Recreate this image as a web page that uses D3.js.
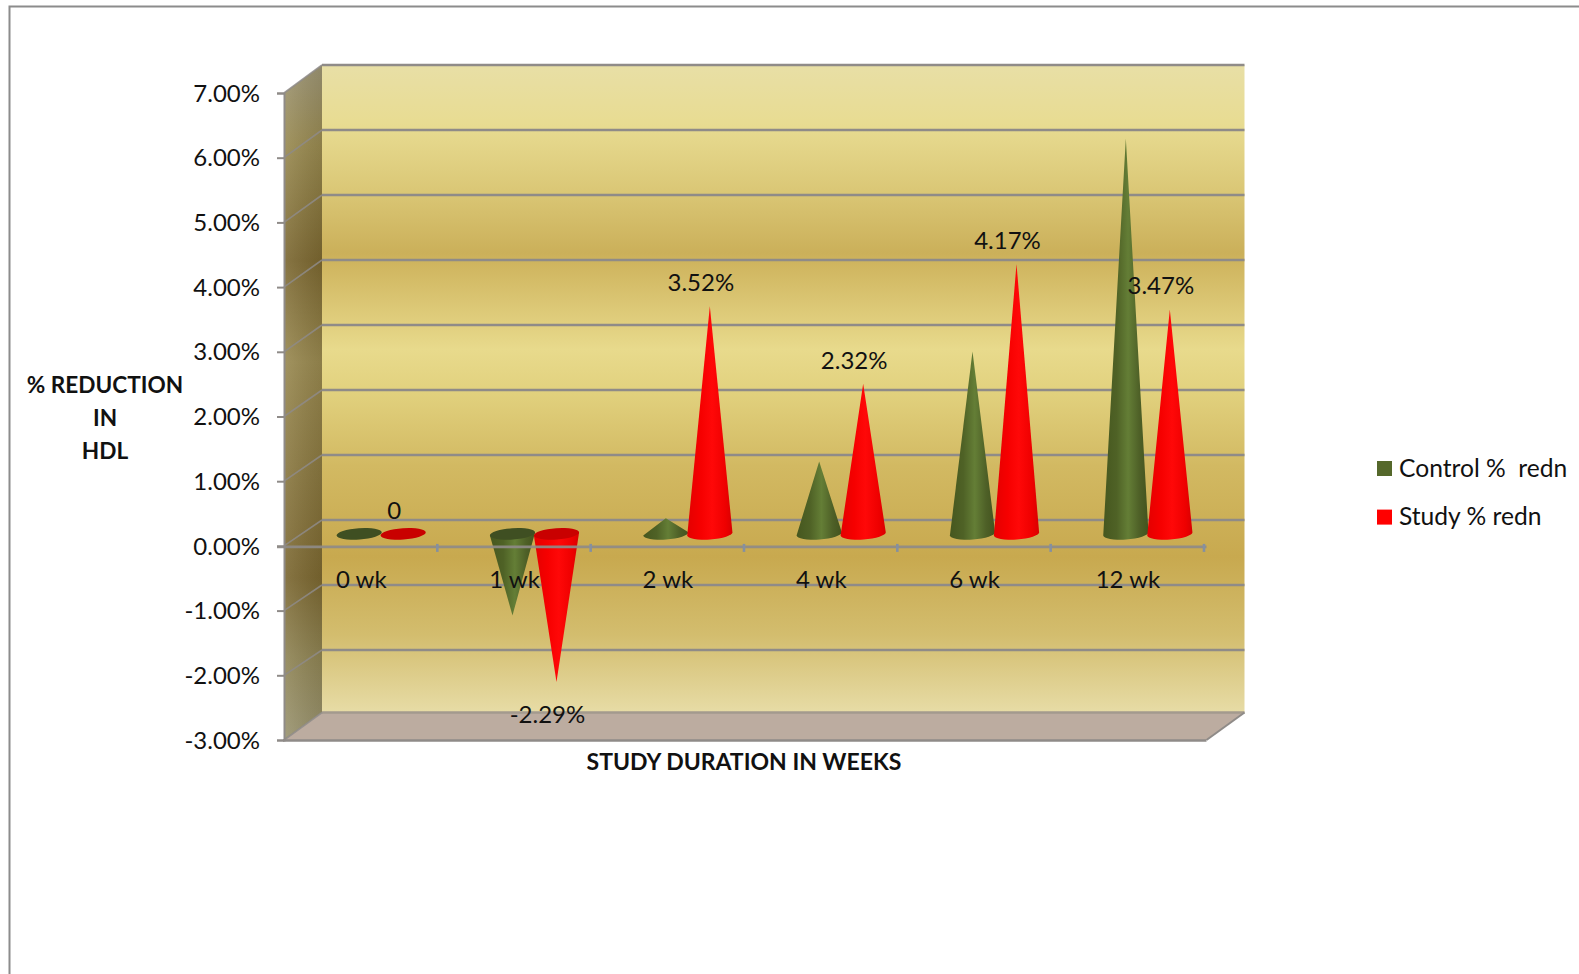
<!DOCTYPE html>
<html>
<head>
<meta charset="utf-8">
<script src="https://cdn.jsdelivr.net/npm/d3@7"></script>
<style>
  html, body { margin: 0; padding: 0; background: #fff; overflow: hidden; }
  svg { display: block; }
  text { font-family: Lato, "Open Sans", sans-serif; fill: #111; white-space: pre; }
</style>
</head>
<body>
<div id="chart"></div>
<script>
// Percent reduction in HDL over the study period
const categories = ["0 wk", "1 wk", "2 wk", "4 wk", "6 wk", "12 wk"];
const controlValues = [0, -1.26, 0.24, 1.12, 2.82, 6.11];
const studyValues = [0, -2.29, 3.52, 2.32, 4.17, 3.47];
const yTicks = [7, 6, 5, 4, 3, 2, 1, 0, -1, -2, -3];
const seriesNames = ["Control %  redn", "Study % redn"];
const seriesColors = ["#55682b", "#ff0000"];
const yTitleLines = ["% REDUCTION", "IN", "HDL"];
const xTitle = "STUDY DURATION IN WEEKS";

const width = 1579, height = 974;
const svg = d3.select("#chart").append("svg").attr("width", width).attr("height", height);
const defs = svg.append("defs");

// Front plane of the 3D box, plus the scale and offset of its back wall
const x = d3.scaleBand().domain(categories).range([284, 1204]);
const y = d3.scaleLinear().domain([-3, 7]).range([740, 93]);
const yBack = d3.scaleLinear().domain([-2, 6]).range([650, 130]);
const depthX = 38;
const xEnd = 1206.5;
const floorBackY = 712.5;
const gridColor = "#8f8b88";
const asPercent = d => d.toFixed(2) + "%";

function linearGradient(id, stops, horizontal) {
  const g = defs.append("linearGradient").attr("id", id)
    .attr("x1", 0).attr("y1", 0)
    .attr("x2", horizontal ? 1 : 0).attr("y2", horizontal ? 0 : 1);
  stops.forEach(([o, c, a]) => g.append("stop").attr("offset", o).attr("stop-color", c)
    .attr("stop-opacity", a === undefined ? 1 : a));
}

linearGradient("wall", [
  [0, "#e8dfa6"], [0.09, "#e8dc92"], [0.19, "#dbc877"], [0.29, "#cbb05a"],
  [0.31, "#d0b660"], [0.44, "#e8da8c"], [0.5, "#e2d27f"], [0.62, "#d2b962"],
  [0.76, "#c8a94f"], [0.88, "#d3bd6e"], [1, "#e7dca6"]
]);
linearGradient("sideWall", [
  [0, "#9c9474"], [0.12, "#98894f"], [0.29, "#7b6730"], [0.44, "#98884f"],
  [0.76, "#7b6730"], [0.88, "#8f8454"], [1, "#9a9470"]
]);
linearGradient("sideSheen", [[0, "#ffffff", 0.1], [1, "#000000", 0.08]], true);
linearGradient("coneControl", [
  [0, "#46571f"], [0.3, "#4f6226"], [0.55, "#647e36"], [0.8, "#4e6027"], [1, "#43531e"]
], true);
linearGradient("coneStudy", [
  [0, "#e40000"], [0.3, "#f60000"], [0.55, "#ff0808"], [0.85, "#ee0000"], [1, "#d80000"]
], true);

const box = svg.append("g");

// Outer chart frame, running off the page to the right and bottom
box.append("path")
  .attr("d", `M9.5,${height + 2}V6.5H${width + 2}`)
  .attr("fill", "none").attr("stroke", "#8c8c8c").attr("stroke-width", 2);

// Floor, side wall and back wall
const yTop = y(7), yBottom = y(-3), x0 = x.range()[0];
const wallTop = yBack(7);
box.append("path")
  .attr("d", `M${x0},${yBottom}L${x0 + depthX},${floorBackY}H${xEnd + depthX}L${xEnd},${yBottom}Z`)
  .attr("fill", "#bcaca0");
["url(#sideWall)", "url(#sideSheen)"].forEach(fill => {
  box.append("path")
    .attr("d", `M${x0},${yTop}L${x0 + depthX},${wallTop}V${floorBackY}L${x0},${yBottom}Z`)
    .attr("fill", fill);
});
box.append("rect")
  .attr("x", x0 + depthX).attr("y", wallTop)
  .attr("width", xEnd - x0).attr("height", floorBackY - wallTop)
  .attr("fill", "url(#wall)");

// Gridlines across the back wall and their diagonals over the side wall
yTicks.forEach(t => {
  const isFloor = t === -3;
  const by = isFloor ? floorBackY : yBack(t);
  box.append("line")
    .attr("x1", x0 + depthX).attr("x2", xEnd + depthX)
    .attr("y1", by).attr("y2", by)
    .attr("stroke", isFloor ? "#a39a8e" : gridColor).attr("stroke-width", 2.4);
  box.append("line")
    .attr("x1", x0).attr("x2", x0 + depthX)
    .attr("y1", y(t)).attr("y2", by)
    .attr("stroke", gridColor).attr("stroke-width", 1.6).attr("opacity", 0.85);
});
box.append("line")
  .attr("x1", xEnd).attr("y1", yBottom).attr("x2", xEnd + depthX).attr("y2", floorBackY)
  .attr("stroke", gridColor).attr("stroke-width", 2);

// Value axis
const yAxis = d3.axisLeft(y).tickValues(yTicks).tickSize(7).tickPadding(17).tickFormat(asPercent);
const yAxisG = svg.append("g").attr("transform", `translate(${x0},0)`).call(yAxis);
yAxisG.select(".domain").attr("stroke", gridColor).attr("stroke-width", 2);
yAxisG.selectAll(".tick line").attr("stroke", gridColor).attr("stroke-width", 2);
yAxisG.selectAll(".tick text").attr("font-size", 24).attr("font-family", "Lato")
  .attr("fill", "#111").attr("dy", "0.34em");

// Floor front edge
svg.append("line").attr("x1", x0 - 1).attr("x2", xEnd).attr("y1", yBottom + 0.5).attr("y2", yBottom + 0.5)
  .attr("stroke", gridColor).attr("stroke-width", 2.5);

// Cones stand partway through the depth of the box
const coneHalfWidth = 22.6, coneRy = 5.6, coneTilt = -4, pairOffset = 22;
const coneY = v => y(v) - 12;
const coneX = (cat, sign) => x(cat) + x.bandwidth() / 2 + 20.5 + sign * pairOffset;

function drawCones(values, sign, gradient, capColor) {
  const g = svg.append("g");
  values.forEach((v, i) => {
    const cx = coneX(categories[i], sign);
    const by = coneY(0), ty = coneY(v);
    const drop = coneHalfWidth * Math.sin(-coneTilt * Math.PI / 180);
    const left = [cx - coneHalfWidth, by + drop], right = [cx + coneHalfWidth, by - drop];
    const ellipse = `M${left}A${coneHalfWidth},${coneRy} ${coneTilt} 1 1 ${right}A${coneHalfWidth},${coneRy} ${coneTilt} 1 1 ${left}Z`;
    if (v === 0) {
      g.append("path").attr("d", ellipse).attr("fill", capColor);
    } else if (v > 0) {
      g.append("path")
        .attr("d", `M${left}L${cx},${ty}L${right}A${coneHalfWidth},${coneRy} ${coneTilt} 0 1 ${left}Z`)
        .attr("fill", `url(#${gradient})`);
    } else {
      g.append("path")
        .attr("d", `M${left}L${cx},${ty}L${right}Z`)
        .attr("fill", `url(#${gradient})`);
      g.append("path").attr("d", ellipse).attr("fill", capColor);
    }
  });
}
drawCones(controlValues, -1, "coneControl", "#3f4f22");
drawCones(studyValues, 1, "coneStudy", "#c90000");

// Category axis at zero
const zeroY = y(0) + 1;
const xTickValues = d3.range(categories.length + 1).map(i => x0 + i * x.step());
svg.append("line").attr("x1", x0 - 7).attr("x2", xEnd).attr("y1", zeroY).attr("y2", zeroY)
  .attr("stroke", gridColor).attr("stroke-width", 2.6).attr("opacity", 0.92);
svg.selectAll(".xtick").data(xTickValues.slice(1)).join("line").attr("class", "xtick")
  .attr("x1", d => d).attr("x2", d => d).attr("y1", zeroY - 3).attr("y2", zeroY + 5)
  .attr("stroke", "#8590a0").attr("stroke-width", 2.6);
svg.selectAll(".xlabel").data(categories).join("text").attr("class", "xlabel")
  .attr("x", d => x(d) + x.bandwidth() / 2 + 0.6).attr("y", 588)
  .attr("text-anchor", "middle").attr("font-size", 24).text(d => d);

// Data labels for the study series
svg.selectAll(".dlabel").data(studyValues).join("text").attr("class", "dlabel")
  .attr("x", (d, i) => coneX(categories[i], 1) - 9)
  .attr("y", d => d < 0 ? coneY(d) + 41 : coneY(d) - 15)
  .attr("text-anchor", "middle").attr("font-size", 24)
  .text(d => d === 0 ? "0" : asPercent(d));

// Axis titles
svg.selectAll(".ytitle").data(yTitleLines).join("text").attr("class", "ytitle")
  .attr("x", 105).attr("y", (d, i) => 393 + i * 33)
  .attr("text-anchor", "middle").attr("font-size", 22.6).attr("font-weight", 700).text(d => d);
svg.append("text").attr("x", 744).attr("y", 770)
  .attr("text-anchor", "middle").attr("font-size", 23).attr("font-weight", 700).text(xTitle);

// Legend
const legend = svg.selectAll(".legend").data(seriesNames).join("g").attr("class", "legend")
  .attr("transform", (d, i) => `translate(1377,${461 + i * 48.6})`);
legend.append("rect").attr("width", 15).attr("height", 15).attr("fill", (d, i) => seriesColors[i]);
legend.append("text").attr("x", 22).attr("y", 15.5).attr("font-size", 24.6).text(d => d);
</script>
</body>
</html>
